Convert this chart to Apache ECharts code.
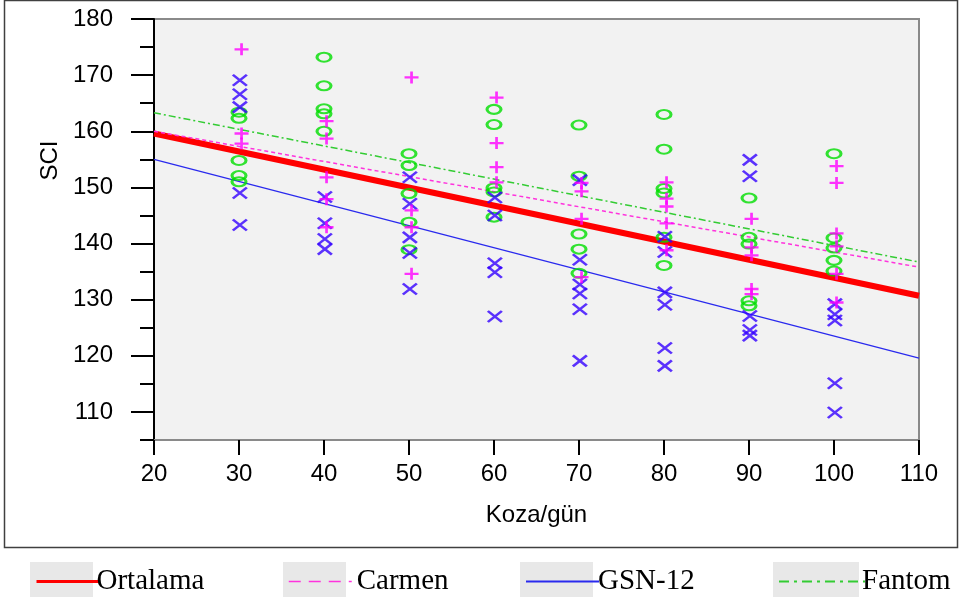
<!DOCTYPE html>
<html>
<head>
<meta charset="utf-8">
<script src="https://cdn.jsdelivr.net/npm/echarts@6/dist/echarts.min.js"></script>
<style>
  html, body { margin: 0; padding: 0; background: #ffffff; }
  #chart { width: 964px; height: 599px; }
</style>
</head>
<body>
<div id="chart"></div>
<script>
// Koza/gün levels on the x axis
const doses = [30, 40, 50, 60, 70, 80, 90, 100];

// SCI observations per variety, one inner list per Koza/gün level
const carmenValues = [
  [174.6, 159.6, 157.8],
  [161.8, 158.7, 151.8, 147.9, 142.9],
  [169.6, 145.9, 142.9, 134.6],
  [166.0, 157.9, 153.6, 150.9],
  [150.8, 149.3, 144.4, 134.0],
  [150.9, 148.0, 146.6, 143.6, 138.8],
  [144.4, 139.3, 137.9, 131.9, 131.0],
  [153.8, 150.8, 141.8, 139.5, 134.6, 129.5]
];
const gsnValues = [
  [169.1, 166.6, 164.3, 149.0, 143.3],
  [148.3, 143.6, 140.8, 139.0],
  [151.8, 147.1, 141.1, 138.3, 131.9],
  [148.2, 145.0, 136.5, 134.9, 127.0],
  [151.3, 137.1, 132.7, 131.1, 128.3, 119.1],
  [141.2, 138.5, 131.3, 129.1, 121.4, 118.2],
  [154.9, 152.0, 127.1, 124.6, 123.6],
  [129.2, 127.4, 126.3, 115.1, 109.9]
];
const fantomValues = [
  [163.4, 162.3, 154.8, 152.1, 151.0],
  [173.2, 168.1, 164.0, 163.1, 160.0],
  [156.0, 153.9, 148.9, 143.8, 138.9],
  [163.9, 161.2, 149.9, 149.2, 144.7],
  [161.1, 152.0, 141.7, 139.0, 134.7],
  [163.0, 156.8, 149.8, 149.0, 141.1, 136.1],
  [148.1, 141.1, 139.9, 129.8, 128.9],
  [156.0, 141.0, 139.2, 137.0, 135.1]
];

// Fitted regression lines: SCI at Koza/gün = 20 and 110
const fitRange = [20, 110];
const ortalamaFit = [159.6, 130.7];
const carmenFit = [160.0, 135.8];
const gsnFit = [155.0, 119.6];
const fantomFit = [163.3, 136.7];

// Axis ticks
const xTicks = [20, 30, 40, 50, 60, 70, 80, 90, 100, 110];
const yMajorTicks = [110, 120, 130, 140, 150, 160, 170, 180];
const yMinorTicks = [105, 115, 125, 135, 145, 155, 165, 175];

function points(values, shift) {
  const out = [];
  values.forEach((col, i) => col.forEach(v => out.push([doses[i] + shift, v])));
  return out;
}
function fitLine(ends) {
  return [[fitRange[0], ends[0]], [fitRange[1], ends[1]]];
}

const SANS = 'Liberation Sans, Arial, sans-serif';
const SERIF = 'Liberation Serif, Times New Roman, serif';

const crossPath = 'path://M0,0L14,11M14,0L0,11';
const plusPath = 'path://M7,0L7,12M0,6L14,6';

const chart = echarts.init(document.getElementById('chart'), null, { renderer: 'canvas' });

// Legend swatches: grey box behind each line sample
const swatches = [
  { name: 'Ortalama', x: 30, w: 63, line: { width: 3 }, pad: -8 },
  { name: 'Carmen', x: 283, w: 63, line: { width: 1.5, type: [12, 8] }, pad: 0 },
  { name: 'GSN-12', x: 520, w: 73, line: { width: 2 }, pad: -6 },
  { name: 'Fantom', x: 773, w: 86, line: { width: 2, type: [10, 5, 3, 5] }, pad: -8 }
];

const legends = swatches.map(s => ({
  data: [s.name],
  left: s.x,
  top: 562,
  itemWidth: s.w,
  itemHeight: 35,
  itemGap: 0,
  selectedMode: false,
  itemStyle: { opacity: 0 },
  lineStyle: s.line,
  textStyle: { fontFamily: SERIF, fontSize: 29, color: '#000', padding: [0, 0, 0, s.pad] }
}));

const boxes = swatches.map(s => ({
  type: 'rect', silent: true, z: -10,
  shape: { x: s.x, y: 562, width: s.w, height: 35 },
  style: { fill: '#e8e8e8' }
}));

chart.setOption({
  animation: false,
  backgroundColor: '#ffffff',
  grid: {
    left: 154, right: 45, top: 19, bottom: 159,
    show: true,
    backgroundColor: '#f2f2f2',
    borderColor: '#8a8a8a',
    borderWidth: 2
  },
  xAxis: {
    type: 'value',
    min: 20, max: 110, interval: 10,
    name: 'Koza/gün',
    nameLocation: 'middle',
    nameGap: 63,
    nameTextStyle: { fontFamily: SANS, fontSize: 24, color: '#000' },
    axisLine: { show: true, lineStyle: { color: '#8a8a8a', width: 2 } },
    axisTick: { show: true, length: 15, customValues: xTicks, lineStyle: { color: '#000', width: 2 } },
    axisLabel: { margin: 22, customValues: xTicks, fontFamily: SANS, fontSize: 24, color: '#000' },
    splitLine: { show: false }
  },
  yAxis: [
    {
      type: 'value',
      min: 105, max: 180,
      name: 'SCI',
      nameLocation: 'middle',
      nameGap: 88,
      nameRotate: 90,
      nameTextStyle: { fontFamily: SANS, fontSize: 24, color: '#000', padding: [0, 0, 0, 138] },
      axisLine: { show: true, lineStyle: { color: '#000', width: 2 } },
      axisTick: { show: true, length: 23, customValues: yMajorTicks, lineStyle: { color: '#000', width: 2 } },
      axisLabel: { margin: 41, customValues: yMajorTicks, fontFamily: SANS, fontSize: 24, color: '#000' },
      splitLine: { show: false }
    },
    {
      type: 'value',
      min: 105, max: 180,
      position: 'left',
      axisLine: { show: false },
      axisTick: { show: true, length: 14, customValues: yMinorTicks, lineStyle: { color: '#000', width: 2 } },
      axisLabel: { show: false },
      splitLine: { show: false }
    }
  ],
  legend: legends,
  graphic: [
    { type: 'rect', silent: true, z: -10, shape: { x: 4.5, y: 0.5, width: 953, height: 547 },
      style: { fill: 'none', stroke: '#404040', lineWidth: 1.5 } }
  ].concat(boxes),
  series: [
    {
      name: 'Ortalama', type: 'line', data: fitLine(ortalamaFit), symbol: 'none', z: 3,
      lineStyle: { color: '#ff0000', width: 6 }, itemStyle: { color: '#ff0000' }
    },
    {
      name: 'Carmen', type: 'line', data: fitLine(carmenFit), symbol: 'none', z: 3,
      lineStyle: { color: '#ff33dd', width: 1.5, type: [4, 3] }, itemStyle: { color: '#ff33dd' }
    },
    {
      name: 'GSN-12', type: 'line', data: fitLine(gsnFit), symbol: 'none', z: 3,
      lineStyle: { color: '#2a2aee', width: 1.2 }, itemStyle: { color: '#2a2aee' }
    },
    {
      name: 'Fantom', type: 'line', data: fitLine(fantomFit), symbol: 'none', z: 3,
      lineStyle: { color: '#33cc33', width: 1.5, type: [7, 3, 2, 3] }, itemStyle: { color: '#33cc33' }
    },
    {
      name: 'Fantom gözlem', type: 'scatter', data: points(fantomValues, 0.0), z: 4,
      symbol: 'circle', symbolSize: [14, 9],
      itemStyle: { color: 'rgba(0,0,0,0)', borderColor: '#00dd00', borderWidth: 2.5 }
    },
    {
      name: 'GSN-12 gözlem', type: 'scatter', data: points(gsnValues, 0.1), z: 5,
      symbol: crossPath, symbolSize: [14, 11],
      itemStyle: { color: 'rgba(0,0,0,0)', borderColor: '#3300ff', borderWidth: 2.5 }
    },
    {
      name: 'Carmen gözlem', type: 'scatter', data: points(carmenValues, 0.3), z: 6,
      symbol: plusPath, symbolSize: [14, 12],
      itemStyle: { color: 'rgba(0,0,0,0)', borderColor: '#ff00ff', borderWidth: 2.5 }
    }
  ]
});
</script>
</body>
</html>
